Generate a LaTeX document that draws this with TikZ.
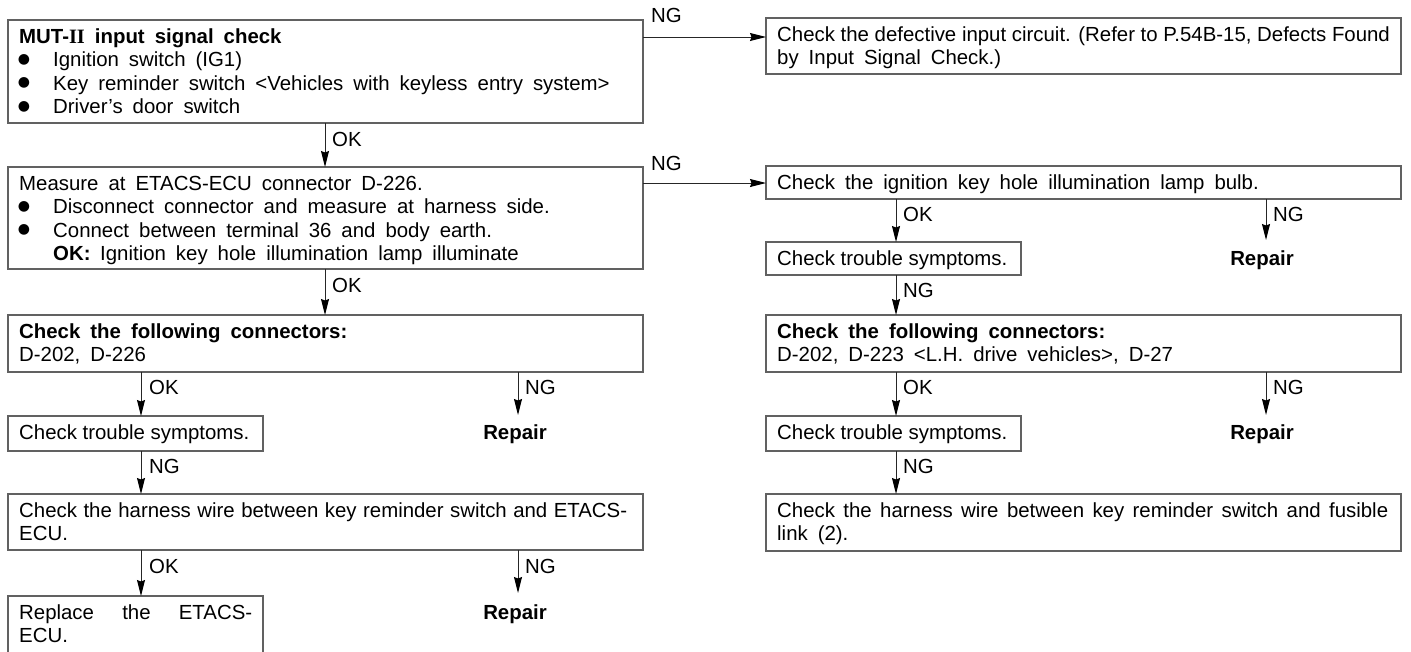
\documentclass[tikz,border=0pt]{standalone}
\usepackage{fontspec}
\setmainfont{Liberation Sans}
\newfontfamily\serifII{Liberation Serif}
\newfontfamily\dejavu{DejaVu Sans}
\usetikzlibrary{arrows.meta}
\newcommand\widesp{\spaceskip=10pt plus 2pt minus 1pt\relax}
\newcommand\bodysize{\fontsize{20.4}{23.5}\selectfont}
\tikzset{
  box/.style={draw=black!62, line width=1.3pt, anchor=north west, inner sep=0pt, outer sep=0pt},
  txt/.style={anchor=base west, inner sep=0pt, font=\bodysize},
  wtxt/.style={anchor=base west, inner sep=0pt, font={\bodysize\widesp}},
  btxt/.style={anchor=base west, inner sep=0pt, font={\bodysize\bfseries\widesp}},
  lbl/.style={anchor=base west, inner sep=0pt, font=\bodysize},
  rep/.style={anchor=base, inner sep=0pt, font={\bodysize\bfseries}},
  dot/.style={anchor=center, inner sep=0pt, font={\dejavu\fontsize{14}{14}\selectfont}},
  arr/.style={draw=black!85, line width=1pt, -{Stealth[length=16pt,width=8pt,inset=1.5pt,color=black,fill=black]}}
}
\begin{document}
\begin{tikzpicture}[x=1pt,y=-1pt]
\useasboundingbox (0,0) rectangle (1411,651);

% ---------------- left column ----------------
\node[box, minimum width=635pt, minimum height=103pt] (b1) at (8,20) {};
\node[btxt] (t1a) at (19,43) {MUT-{\serifII II} input signal check};
\node[dot] (d1b) at (24,59.5) {●};
\node[wtxt] (t1b) at (53,66.5) {Ignition switch (IG1)};
\node[dot] (d1c) at (24,83) {●};
\node[wtxt] (t1c) at (53,90) {Key reminder switch <Vehicles with keyless entry system>};
\node[dot] (d1d) at (24,106.5) {●};
\node[wtxt] (t1d) at (53,113.5) {Driver’s door switch};

\node[box, minimum width=635pt, minimum height=102pt] (b2) at (8,167) {};
\node[wtxt] (t2a) at (19,190) {Measure at ETACS-ECU connector D-226.};
\node[dot] (d2b) at (24,206.5) {●};
\node[wtxt] (t2b) at (53,213.5) {Disconnect connector and measure at harness side.};
\node[dot] (d2c) at (24,230) {●};
\node[wtxt] (t2c) at (53,237) {Connect between terminal 36 and body earth.};
\node[btxt] (t2d) at (53,260.5) {OK:};
\node[wtxt] (t2e) at (100,260.5) {Ignition key hole illumination lamp illuminate};

\node[box, minimum width=635pt, minimum height=57pt] (b3) at (8,315) {};
\node[btxt] (t3a) at (19,338) {Check the following connectors:};
\node[wtxt] (t3b) at (19,361.5) {D-202, D-226};

\node[box, minimum width=255pt, minimum height=35pt] (b4) at (8,416) {};
\node[txt] (t4a) at (19,439) {Check trouble symptoms.};
\node[rep] (rep1) at (515,439) {Repair};

\node[box, minimum width=635pt, minimum height=56pt] (b5) at (8,494) {};
\node[txt] (t5a) at (19,517) {\makebox[608pt][s]{Check the harness wire between key reminder switch and ETACS-}};
\node[txt] (t5b) at (19,540.5) {ECU.};

\node[box, minimum width=255pt, minimum height=80pt] (b6) at (8,596) {};
\node[txt] (t6a) at (19,619) {\makebox[233pt][s]{Replace the ETACS-}};
\node[txt] (t6b) at (19,642.5) {ECU.};
\node[rep] (rep2) at (515,619) {Repair};

% ---------------- right column ----------------
\node[box, minimum width=635pt, minimum height=56pt] (r1) at (766,18) {};
\node[txt] (u1a) at (777,41) {Check the defective input circuit. (Refer to P.54B-15, Defects Found};
\node[wtxt] (u1b) at (777,64.5) {by Input Signal Check.)};

\node[box, minimum width=635pt, minimum height=33pt] (r2) at (766,166) {};
\node[wtxt] (u2a) at (777,189) {Check the ignition key hole illumination lamp bulb.};

\node[box, minimum width=255pt, minimum height=33pt] (r3) at (766,242) {};
\node[txt] (u3a) at (777,265) {Check trouble symptoms.};
\node[rep] (rep3) at (1262,265) {Repair};

\node[box, minimum width=635pt, minimum height=57pt] (r4) at (766,315) {};
\node[btxt] (u4a) at (777,338) {Check the following connectors:};
\node[wtxt] (u4b) at (777,361.5) {D-202, D-223 <L.H. drive vehicles>, D-27};

\node[box, minimum width=255pt, minimum height=35pt] (r5) at (766,416) {};
\node[txt] (u5a) at (777,439) {Check trouble symptoms.};
\node[rep] (rep4) at (1262,439) {Repair};

\node[box, minimum width=635pt, minimum height=57pt] (r6) at (766,494) {};
\node[txt] (u6a) at (777,517) {\makebox[611pt][s]{Check the harness wire between key reminder switch and fusible}};
\node[wtxt] (u6b) at (777,540.5) {link (2).};

% ---------------- arrow end points at the Repair labels ----------------
\coordinate (n1) at (518,415);
\coordinate (n2) at (518,593);
\coordinate (n3) at (1266,240);
\coordinate (n4) at (1266,415);

% ---------------- connectors ----------------
\draw[arr] ([yshift=-17pt]b1.north east) -- ([yshift=-19pt]r1.north west);
\node[lbl] (g1) at (651,22) {NG};
\draw[arr] ([yshift=-16pt]b2.north east) -- ([yshift=-17pt]r2.north west);
\node[lbl] (g2) at (651,170) {NG};

\draw[arr] ([xshift=317pt]b1.south west) -- ([xshift=317pt]b2.north west);
\node[lbl] (k1) at (332,146) {OK};
\draw[arr] ([xshift=317pt]b2.south west) -- ([xshift=317pt]b3.north west);
\node[lbl] (k2) at (332,292) {OK};

\draw[arr] ([xshift=133pt]b3.south west) -- ([xshift=133pt]b4.north west);
\node[lbl] (k3) at (149,394) {OK};
\draw[arr] ([xshift=510pt]b3.south west) -- (n1);
\node[lbl] (g3) at (525,394) {NG};

\draw[arr] ([xshift=133pt]b4.south west) -- ([xshift=133pt]b5.north west);
\node[lbl] (g4) at (149,473) {NG};

\draw[arr] ([xshift=133pt]b5.south west) -- ([xshift=133pt]b6.north west);
\node[lbl] (k5) at (149,573) {OK};
\draw[arr] ([xshift=510pt]b5.south west) -- (n2);
\node[lbl] (g5) at (525,573) {NG};

\draw[arr] ([xshift=130pt]r2.south west) -- ([xshift=130pt]r3.north west);
\node[lbl] (k6) at (903,221) {OK};
\draw[arr] ([xshift=500pt]r2.south west) -- (n3);
\node[lbl] (g6) at (1273,221) {NG};

\draw[arr] ([xshift=130pt]r3.south west) -- ([xshift=130pt]r4.north west);
\node[lbl] (g7) at (903,297) {NG};

\draw[arr] ([xshift=130pt]r4.south west) -- ([xshift=130pt]r5.north west);
\node[lbl] (k8) at (903,394) {OK};
\draw[arr] ([xshift=500pt]r4.south west) -- (n4);
\node[lbl] (g8) at (1273,394) {NG};

\draw[arr] ([xshift=130pt]r5.south west) -- ([xshift=130pt]r6.north west);
\node[lbl] (g9) at (903,473) {NG};
\end{tikzpicture}
\end{document}
